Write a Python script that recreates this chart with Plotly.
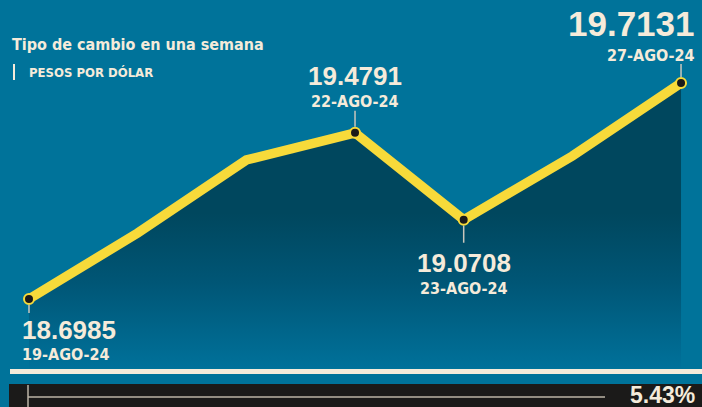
import plotly.graph_objects as go

# ---- data ----
dates = ["19-AGO-24", "20-AGO-24", "21-AGO-24", "22-AGO-24", "23-AGO-24", "26-AGO-24", "27-AGO-24"]
values = [18.6985, 19.0085, 19.3514, 19.4791, 19.0708, 19.3702, 19.7131]
labeled = [0, 3, 4, 6]
title_text = "Tipo de cambio en una semana"
subtitle_text = "PESOS POR DÓLAR"
change_text = "5.43%"

# ---- style ----
BG = "#00739A"
CREAM = "#F5EBDA"
YELLOW = "#F7DA3A"
BLACK = "#1B1A19"
NUM_FONT = "Liberation Sans, Arial, sans-serif"
NARROW = "DejaVu Sans Condensed, Liberation Sans, sans-serif"
W, H = 702, 407
BASE = 18.3744  # fill baseline

x = list(range(len(values)))

fig = go.Figure()
fig.add_trace(go.Scatter(x=x, y=[BASE] * len(x), mode="lines",
                         line=dict(width=0, color="rgba(0,0,0,0)"),
                         hoverinfo="skip", showlegend=False))
fig.add_trace(go.Scatter(x=x, y=values, mode="lines", fill="tonexty",
                         line=dict(width=0, color="rgba(0,0,0,0)"),
                         fillgradient=dict(type="vertical", start=BASE, stop=19.1,
                                           colorscale=[[0, "#00719A"], [0.55, "#005676"], [1, "#00475E"]]),
                         hoverinfo="skip", showlegend=False))
fig.add_trace(go.Scatter(x=x, y=values, mode="lines",
                         line=dict(width=9.5, color=YELLOW),
                         hoverinfo="skip", showlegend=False))

# connectors (pixel offsets)
conn = {0: (-6, -14), 3: (6, 22), 4: (-6, -23), 6: (6, 19)}
for i, (a, b) in conn.items():
    fig.add_shape(type="line", xref="x", yref="y", ysizemode="pixel", yanchor=values[i],
                  x0=x[i], x1=x[i], y0=a, y1=b, line=dict(color="#C9C6BC", width=1.5), layer="above")

fig.add_trace(go.Scatter(x=[x[i] for i in labeled], y=[values[i] for i in labeled], mode="markers",
                         marker=dict(size=10, color=BLACK, line=dict(color=YELLOW, width=2)),
                         hoverinfo="skip", showlegend=False))

# labels: (xanchor, xshift, value_shift, value_size, date_shift, date_size)
lab = {
    0: ("left", -9, -31, 26, -55, 16),
    3: ("center", 0, 57, 26, 31, 16),
    4: ("center", 0, -43, 26, -69, 16),
    6: ("right", 16, 59, 35, 27, 16),
}
for i, (xa, xs, vs, vsz, ds, dsz) in lab.items():
    fig.add_annotation(x=x[i], y=values[i], xref="x", yref="y", text=f"<b>{values[i]:.4f}</b>",
                       showarrow=False, xanchor=xa, yanchor="middle", xshift=xs, yshift=vs,
                       font=dict(family=NUM_FONT, size=vsz, color=CREAM))
    fig.add_annotation(x=x[i], y=values[i], xref="x", yref="y", text=f"<b>{dates[i]}</b>",
                       showarrow=False, xanchor=xa, yanchor="middle", xshift=xs, yshift=ds,
                       font=dict(family=NARROW, size=dsz, color=CREAM))

def py(p):
    return 1 - p / H

def px(p):
    return p / W

fig.add_annotation(x=px(10), y=py(44), xref="paper", yref="paper", text=f"<b>{title_text}</b>",
                   showarrow=False, xanchor="left", yanchor="middle",
                   font=dict(family=NARROW, size=16, color=CREAM))
fig.add_annotation(x=px(27), y=py(72), xref="paper", yref="paper", text=f"<b>{subtitle_text}</b>",
                   showarrow=False, xanchor="left", yanchor="middle",
                   font=dict(family=NARROW, size=13, color=CREAM))
fig.add_shape(type="line", xref="paper", yref="paper", x0=px(14), x1=px(14), y0=py(64), y1=py(80),
              line=dict(color=CREAM, width=2))

# baseline and bottom bar
fig.add_shape(type="line", xref="paper", yref="paper", x0=px(10), x1=1, y0=py(371.5), y1=py(371.5),
              line=dict(color=CREAM, width=5))
fig.add_shape(type="rect", xref="paper", yref="paper", x0=px(9), x1=1, y0=0, y1=py(384),
              fillcolor=BLACK, line=dict(width=0))
fig.add_shape(type="line", xref="paper", yref="paper", x0=px(28), x1=px(605), y0=py(397), y1=py(397),
              line=dict(color="#BDB5A6", width=1.5))
fig.add_shape(type="line", xref="paper", yref="paper", x0=px(28), x1=px(28), y0=0, y1=py(385),
              line=dict(color="#BDB5A6", width=1.5))
fig.add_annotation(x=px(697), y=py(395), xref="paper", yref="paper", text=f"<b>{change_text}</b>",
                   showarrow=False, xanchor="right", yanchor="middle",
                   font=dict(family=NUM_FONT, size=23, color=CREAM))

fig.update_layout(
    width=W, height=H, margin=dict(l=0, r=0, t=0, b=0),
    paper_bgcolor=BG, plot_bgcolor=BG,
    xaxis=dict(range=[-0.2669, 6.193], visible=False, fixedrange=True),
    yaxis=dict(range=[18.1912, 20.1029], visible=False, fixedrange=True),
    showlegend=False,
)
fig.write_html("out.html", config={"displayModeBar": False},
               post_script="document.body.style.margin='0';document.body.style.overflow='hidden';")
